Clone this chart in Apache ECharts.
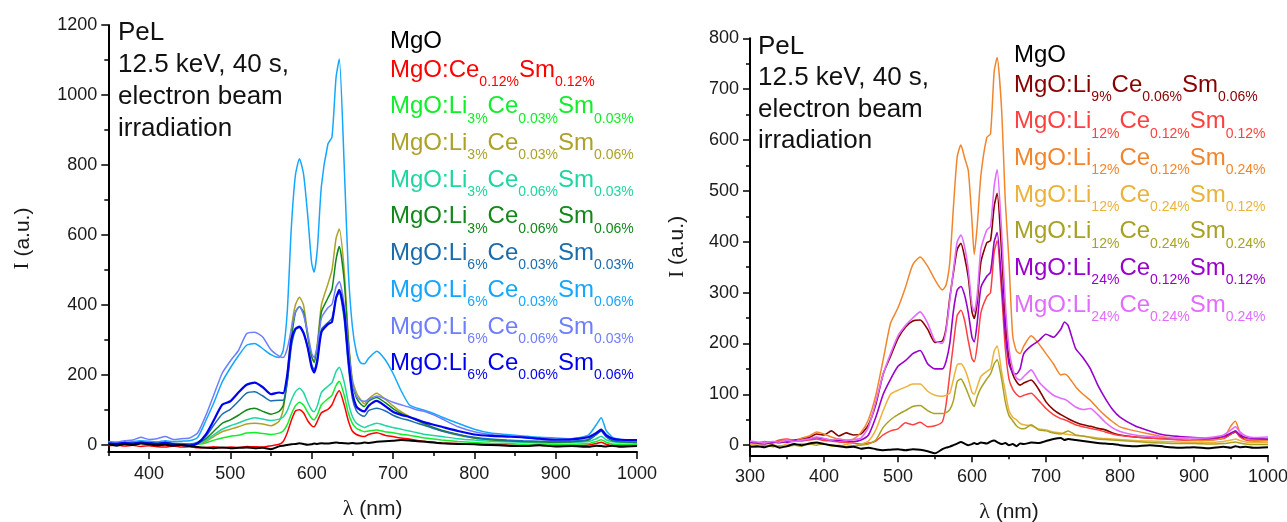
<!DOCTYPE html>
<html>
<head>
<meta charset="utf-8">
<script src="https://cdn.jsdelivr.net/npm/echarts@6/dist/echarts.min.js"></script>
<style>
  html, body { margin: 0; padding: 0; background: #ffffff; }
  #chart { width: 1287px; height: 522px; }
</style>
</head>
<body>
<div id="chart"></div>
<script>
// ---------- Left panel: wavelength grid (nm) ----------
const WL_L = [
  350,360,370,380,390,400,410,420,430,440,
  450,460,470,480,490,500,510,520,530,540,
  550,560,565,570,575,580,585,590,595,600,
  603,607,612,620,625,630,634,640,645,650,
  655,660,665,670,680,690,700,710,720,730,
  740,750,760,780,800,820,840,860,880,900,
  920,940,950,956,962,970,980,1000
];

// Intensities (a.u.) on WL_L
const L_MGO = [
  2,-2,3,0,4,2,-1,1,-2,0,
  -3,-6,-8,-9,-7,-9,-8,-7,-9,-8,
  -12,-4,-2,0,2,3,5,3,1,2,
  4,3,5,4,6,7,6,5,4,6,
  4,5,7,6,9,11,12,14,13,11,
  9,7,5,3,2,0,-2,-3,-1,-4,
  -3,-5,-2,-3,-4,-2,-5,-3
];
const L_CE12_SM12 = [
  -2,0,-3,-1,-4,-2,-5,-6,-3,-6,
  -5,-8,-7,-5,-8,-6,-7,-4,-5,-6,
  -2,2,10,35,70,97,101,92,70,55,
  52,68,92,102,115,142,155,115,70,40,
  30,26,24,30,35,28,24,20,17,13,
  10,8,6,4,2,0,1,-2,-1,-3,
  -2,0,4,8,2,-2,-1,-3
];
const L_LI3_CE03_SM03 = [
  3,1,4,2,5,3,2,4,1,2,
  0,2,6,14,20,25,28,34,36,33,
  30,34,40,58,88,112,122,114,94,76,
  72,86,115,132,142,170,182,142,92,62,
  48,42,38,40,43,38,35,31,28,24,
  20,17,14,10,7,5,4,2,3,1,
  2,4,10,15,8,3,2,1
];
const L_LI3_CE03_SM06 = [
  5,3,6,4,7,5,3,6,2,1,
  0,3,10,25,38,45,52,60,62,60,
  55,68,100,200,330,400,422,400,320,252,
  240,290,400,460,500,590,617,500,310,190,
  150,130,118,132,148,132,112,95,82,70,
  58,48,40,28,20,15,12,10,9,8,
  9,14,32,46,28,14,10,8
];
const L_LI3_CE06_SM03 = [
  4,2,5,3,6,4,3,5,2,1,
  1,4,14,30,45,55,63,72,78,74,
  70,74,80,98,128,152,162,150,122,100,
  95,112,150,168,178,210,222,180,122,82,
  62,55,50,55,62,56,50,45,40,35,
  30,27,24,18,14,11,9,8,7,6,
  7,10,18,25,15,9,7,6
];
const L_LI3_CE06_SM06 = [
  6,4,7,5,8,6,4,7,3,2,
  2,6,18,40,62,72,85,100,105,96,
  88,96,112,180,300,378,395,380,312,252,
  236,282,380,420,445,530,567,470,300,175,
  135,118,110,125,136,122,104,90,80,70,
  60,50,42,30,20,15,12,10,9,8,
  9,14,30,40,24,12,9,7
];
const L_LI6_CE03_SM03 = [
  7,5,8,6,10,7,6,9,5,4,
  3,8,25,58,88,102,125,148,152,140,
  126,128,128,180,280,328,336,322,280,230,
  215,250,330,350,362,420,435,360,230,135,
  98,86,82,98,105,98,85,76,70,62,
  55,47,40,30,22,17,14,12,11,10,
  11,16,30,40,24,14,11,9
];
const L_LI6_CE03_SM06 = [
  6,8,7,10,12,11,9,12,10,11,
  12,22,70,122,180,220,255,285,290,275,
  258,250,270,380,620,770,818,775,660,520,
  494,560,740,860,880,1050,1103,800,500,340,
  265,235,232,248,268,245,205,155,115,105,
  98,90,80,62,45,34,30,26,22,20,
  18,28,58,78,42,22,16,13
];
const L_LI6_CE06_SM03 = [
  10,8,12,14,22,16,18,24,16,18,
  20,35,85,145,205,240,270,318,322,308,
  272,254,250,275,330,380,396,372,322,262,
  250,282,362,392,402,452,467,400,280,180,
  140,128,125,130,140,132,122,115,108,100,
  95,86,75,52,38,30,26,22,18,16,
  18,24,36,45,30,18,14,11
];
const L_LI6_CE06_SM06 = [
  5,3,6,4,7,5,3,6,2,0,
  -2,5,30,72,115,125,150,172,178,165,
  145,150,148,200,300,332,338,320,280,222,
  207,240,322,345,352,420,443,380,250,150,
  110,100,96,112,126,112,95,86,80,72,
  64,58,52,40,30,26,24,22,18,15,
  16,22,34,43,28,18,15,14
];

// ---------- Right panel: wavelength grid (nm) ----------
const WL_R = [
  300,310,320,330,340,350,360,370,380,390,
  400,410,420,430,440,450,460,470,480,490,
  500,510,520,530,540,550,560,565,570,575,
  580,585,590,595,600,603,607,612,620,625,
  630,634,640,645,650,655,660,665,670,680,
  690,700,710,720,725,730,740,750,760,770,
  780,790,800,820,840,860,880,900,920,940,
  950,956,962,970,980,1000
];

const R_MGO = [
  -3,-2,-4,0,-5,-2,2,0,3,5,
  2,0,-2,-4,-3,-7,-5,-8,-10,-9,
  -8,-10,-8,-9,-12,-16,-8,-5,-3,0,
  3,6,3,0,2,4,2,5,3,7,
  9,6,2,4,0,2,-2,3,2,5,
  4,8,12,14,10,12,10,8,6,4,
  3,2,0,-2,0,-3,-5,-4,-6,-3,
  -5,-2,-4,-3,-5,-4
];
const R_LI9_CE06_SM06 = [
  5,4,3,6,5,8,10,12,15,22,
  20,28,18,24,20,22,40,80,140,175,
  210,232,244,246,228,202,205,230,290,340,
  385,397,370,330,262,249,280,360,398,402,
  470,495,380,250,170,140,125,118,122,128,
  110,85,70,60,56,52,45,40,37,33,
  30,24,20,16,14,13,12,10,11,14,
  22,26,18,12,10,10
];
const R_LI12_CE12_SM12 = [
  6,4,7,5,10,12,9,8,10,12,
  9,8,6,5,4,2,4,8,20,28,
  32,44,40,45,36,38,46,80,140,200,
  255,265,245,205,170,164,195,260,292,300,
  380,402,300,190,130,110,100,95,98,102,
  88,72,60,52,50,47,40,36,33,30,
  26,22,19,16,14,12,10,9,10,13,
  22,27,16,10,8,9
];
const R_LI12_CE12_SM24 = [
  5,3,6,4,8,10,8,14,18,26,
  22,16,12,10,12,25,50,98,168,240,
  270,310,355,370,352,325,305,315,360,470,
  567,590,565,540,440,375,430,530,605,612,
  735,762,660,480,360,215,185,180,195,215,
  200,180,160,138,140,135,115,100,88,72,
  58,46,36,28,22,16,13,10,9,15,
  38,47,25,12,10,9
];
const R_LI12_CE24_SM12 = [
  2,0,3,1,-2,2,0,3,1,4,
  2,0,-2,1,-1,2,8,30,68,100,
  108,114,120,120,106,98,96,98,102,130,
  158,160,150,130,104,100,115,135,145,150,
  185,195,145,105,68,55,50,43,40,38,
  32,30,26,24,22,21,19,18,16,14,
  13,12,11,9,8,7,6,5,5,7,
  10,12,9,6,5,5
];
const R_LI12_CE24_SM24 = [
  -2,-4,0,-3,-1,-3,0,-2,2,0,
  3,-2,0,-3,-1,0,2,10,35,50,
  60,68,76,78,68,62,62,64,70,88,
  125,130,118,100,82,76,95,112,130,140,
  160,168,130,85,58,48,38,33,32,40,
  30,28,24,22,25,28,20,18,15,12,
  11,10,9,7,5,4,3,3,2,3,
  5,6,4,2,1,1
];
const R_LI24_CE12_SM12 = [
  6,4,3,5,7,6,8,10,12,15,
  12,10,9,8,7,10,20,55,100,130,
  155,166,180,186,160,150,150,165,200,265,
  305,312,295,260,212,203,240,310,332,340,
  400,418,320,220,160,142,140,150,180,195,
  205,218,212,228,242,235,190,172,150,118,
  92,70,55,38,28,20,17,15,14,17,
  24,28,20,15,13,12
];
const R_LI24_CE24_SM24 = [
  8,6,4,7,6,9,7,10,12,16,
  13,10,12,9,11,14,35,85,140,180,
  215,235,250,262,240,205,200,225,285,345,
  400,413,390,345,275,262,295,385,423,430,
  510,542,420,280,190,150,132,128,135,148,
  125,110,98,92,90,86,75,70,72,60,
  45,34,27,20,17,15,14,14,15,20,
  30,36,26,18,15,16
];

// ---------- Sample names (main text / subscript alternating) ----------
const L_LABELS = [
  ['MgO'],
  ['MgO:Ce', '0.12%', 'Sm', '0.12%'],
  ['MgO:Li', '3%', 'Ce', '0.03%', 'Sm', '0.03%'],
  ['MgO:Li', '3%', 'Ce', '0.03%', 'Sm', '0.06%'],
  ['MgO:Li', '3%', 'Ce', '0.06%', 'Sm', '0.03%'],
  ['MgO:Li', '3%', 'Ce', '0.06%', 'Sm', '0.06%'],
  ['MgO:Li', '6%', 'Ce', '0.03%', 'Sm', '0.03%'],
  ['MgO:Li', '6%', 'Ce', '0.03%', 'Sm', '0.06%'],
  ['MgO:Li', '6%', 'Ce', '0.06%', 'Sm', '0.03%'],
  ['MgO:Li', '6%', 'Ce', '0.06%', 'Sm', '0.06%']
];
const L_VALUES = [L_MGO, L_CE12_SM12, L_LI3_CE03_SM03, L_LI3_CE03_SM06, L_LI3_CE06_SM03,
  L_LI3_CE06_SM06, L_LI6_CE03_SM03, L_LI6_CE03_SM06, L_LI6_CE06_SM03, L_LI6_CE06_SM06];

const R_LABELS = [
  ['MgO'],
  ['MgO:Li', '9%', 'Ce', '0.06%', 'Sm', '0.06%'],
  ['MgO:Li', '12%', 'Ce', '0.12%', 'Sm', '0.12%'],
  ['MgO:Li', '12%', 'Ce', '0.12%', 'Sm', '0.24%'],
  ['MgO:Li', '12%', 'Ce', '0.24%', 'Sm', '0.12%'],
  ['MgO:Li', '12%', 'Ce', '0.24%', 'Sm', '0.24%'],
  ['MgO:Li', '24%', 'Ce', '0.12%', 'Sm', '0.12%'],
  ['MgO:Li', '24%', 'Ce', '0.24%', 'Sm', '0.24%']
];
const R_VALUES = [R_MGO, R_LI9_CE06_SM06, R_LI12_CE12_SM12, R_LI12_CE12_SM24,
  R_LI12_CE24_SM12, R_LI12_CE24_SM24, R_LI24_CE12_SM12, R_LI24_CE24_SM24];

// ---------- Axis ticks ----------
const L_X_TICKS = [400, 500, 600, 700, 800, 900, 1000];
const L_X_MINOR = [350, 450, 550, 650, 750, 850, 950];
const L_Y_TICKS = [0, 200, 400, 600, 800, 1000, 1200];
const L_Y_MINOR = [100, 300, 500, 700, 900, 1100];
const R_X_TICKS = [300, 400, 500, 600, 700, 800, 900, 1000];
const R_X_MINOR = [350, 450, 550, 650, 750, 850, 950];
const R_Y_TICKS = [0, 100, 200, 300, 400, 500, 600, 700, 800];
const R_Y_MINOR = [50, 150, 250, 350, 450, 550, 650, 750];

const ANNOTATION = 'PeL\n12.5 keV, 40 s,\nelectron beam\nirradiation';

// ---------- Styling ----------
const FONT = "'Liberation Sans', Arial, sans-serif";
const L_COLORS = ['#000000', '#ff0000', '#11ee2a', '#aca228', '#1ed6a0', '#13881a',
  '#1a6cae', '#15a6ff', '#6f7dff', '#0000f0'];
const L_WIDTHS = [2, 1.5, 1.5, 1.5, 1.5, 1.5, 1.5, 1.5, 1.5, 2.2];
const R_COLORS = ['#000000', '#880000', '#ff4040', '#f2852c', '#ebb23c', '#a8a224',
  '#9a00cc', '#e26cff'];
const R_WIDTHS = [2, 1.6, 1.5, 1.5, 1.5, 1.5, 1.6, 1.6];

function plainName(parts) { return parts.join(''); }

function richLabel(parts) {
  return parts.map((p, k) => '{' + (k % 2 ? 'sub' : 'main') + '|' + p + '}').join('');
}

function buildSeries(wl, values, labels, colors, widths, xIdx, yIdx) {
  return values.map((vals, i) => ({
    type: 'line',
    name: plainName(labels[i]),
    xAxisIndex: xIdx,
    yAxisIndex: yIdx,
    data: wl.map((w, j) => [w, vals[j]]),
    showSymbol: false,
    symbol: 'none',
    smooth: 0.2,
    z: i === 0 ? 5 : 3,
    lineStyle: { color: colors[i], width: widths[i] },
    itemStyle: { color: colors[i] }
  }));
}

function mainAxis(gridIndex, pos, min, max, ticks, name, nameGap, rich) {
  const isY = pos === 'left';
  return {
    type: 'value', gridIndex, position: pos, min, max,
    axisLine: { show: true, onZero: false, lineStyle: { color: '#000', width: 2 } },
    axisTick: { show: true, inside: false, length: 7, customValues: ticks,
      lineStyle: { color: '#000', width: 1.5 } },
    minorTick: { show: false },
    axisLabel: { show: true, customValues: ticks, fontSize: 18, color: '#1a1a1a',
      fontFamily: FONT, margin: isY ? 11 : 13, formatter: v => String(v) },
    splitLine: { show: false },
    name, nameLocation: 'middle', nameGap, nameRotate: isY ? 90 : 0,
    nameTextStyle: { fontSize: 21, color: '#1a1a1a', fontFamily: FONT, rich }
  };
}

function minorAxis(gridIndex, pos, min, max, ticks) {
  return {
    type: 'value', gridIndex, position: pos, min, max,
    axisLine: { show: false, onZero: false },
    axisTick: { show: true, inside: false, length: 4, customValues: ticks,
      lineStyle: { color: '#000', width: 1.5 } },
    axisLabel: { show: false },
    splitLine: { show: false }
  };
}

function legendRows(labels, colors, x, top, firstGap, step) {
  return labels.map((parts, i) => ({
    type: 'text',
    x: x,
    y: top + (i === 0 ? 0 : firstGap + (i - 1) * step),
    silent: true,
    z: 10,
    style: {
      text: richLabel(parts),
      fill: colors[i],
      align: 'left',
      verticalAlign: 'top',
      rich: {
        main: { fontSize: 24, fontFamily: FONT, lineHeight: 30, verticalAlign: 'middle' },
        sub: { fontSize: 14, fontFamily: FONT, verticalAlign: 'bottom', height: 6 }
      }
    }
  }));
}

function annotation(x, y, lineHeight) {
  return {
    type: 'text', x, y, silent: true, z: 10,
    style: { text: ANNOTATION, fill: '#111', fontSize: 26, fontFamily: FONT,
      lineHeight, align: 'left', verticalAlign: 'top' }
  };
}

const yRich = { s: { fontFamily: "'Liberation Serif', serif", fontSize: 21, color: '#1a1a1a' } };
const xRich = { g: { fontFamily: "'Liberation Serif', serif", fontSize: 22, color: '#1a1a1a' } };

const chart = echarts.init(document.getElementById('chart'), null, { renderer: 'canvas' });

chart.setOption({
  animation: false,
  backgroundColor: '#ffffff',
  grid: [
    { left: 108.3, top: 25, width: 528.7, height: 427, outerBoundsMode: 'none', containLabel: false },
    { left: 750, top: 38.3, width: 518, height: 417, outerBoundsMode: 'none', containLabel: false }
  ],
  xAxis: [
    mainAxis(0, 'bottom', 350, 1000, L_X_TICKS, '{g|λ} (nm)', 46, xRich),
    minorAxis(0, 'bottom', 350, 1000, L_X_MINOR),
    mainAxis(1, 'bottom', 300, 1000, R_X_TICKS, '{g|λ} (nm)', 46, xRich),
    minorAxis(1, 'bottom', 300, 1000, R_X_MINOR)
  ],
  yAxis: [
    mainAxis(0, 'left', -20, 1200, L_Y_TICKS, '{s|I} (a.u.)', 75, yRich),
    minorAxis(0, 'left', -20, 1200, L_Y_MINOR),
    mainAxis(1, 'left', -20, 800, R_Y_TICKS, '{s|I} (a.u.)', 62, yRich),
    minorAxis(1, 'left', -20, 800, R_Y_MINOR)
  ],
  series: [
    ...buildSeries(WL_L, L_VALUES, L_LABELS, L_COLORS, L_WIDTHS, 0, 0),
    ...buildSeries(WL_R, R_VALUES, R_LABELS, R_COLORS, R_WIDTHS, 2, 2)
  ],
  graphic: [
    annotation(118, 17, 32),
    annotation(758, 31, 31.5),
    ...legendRows(L_LABELS, L_COLORS, 390, 26.7, 28.3, 36.7),
    ...legendRows(R_LABELS, R_COLORS, 1014, 40, 30, 36.7)
  ]
});
</script>
</body>
</html>
